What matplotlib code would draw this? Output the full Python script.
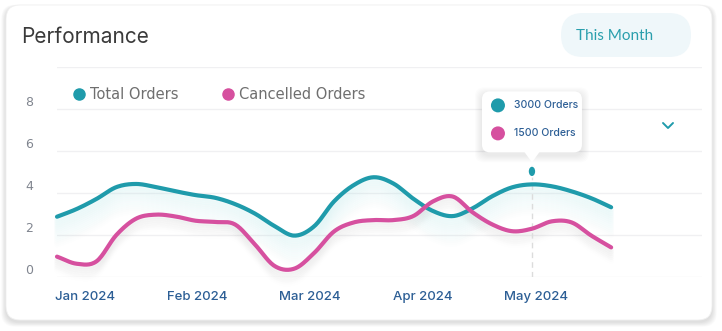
import numpy as np
import matplotlib
matplotlib.use("Agg")
import matplotlib.pyplot as plt
from matplotlib import patches, transforms
from matplotlib.lines import Line2D

W, H = 722, 331

# values (one point every ~20 px)
total_orders = [2.87, 3.24, 3.72, 4.28, 4.43, 4.28, 4.08, 3.90, 3.77, 3.47,
                3.02, 2.42, 1.97, 2.42, 3.60, 4.38, 4.75, 4.45, 3.73, 3.14,
                2.90, 3.27, 3.85, 4.27, 4.41, 4.32, 4.08, 3.75, 3.32]
cancelled_orders = [0.97, 0.63, 0.75, 2.00, 2.78, 2.97, 2.88, 2.68, 2.62, 2.50,
                    1.55, 0.52, 0.40, 1.15, 2.17, 2.60, 2.71, 2.71, 2.90, 3.60,
                    3.83, 3.08, 2.50, 2.18, 2.30, 2.65, 2.60, 1.97, 1.41]
month_labels = ['Jan 2024', 'Feb 2024', 'Mar 2024', 'Apr 2024', 'May 2024']
month_pos = [1.4, 7.1, 12.8, 18.5, 24.2]
y_ticks = [0, 2, 4, 6, 8, 10]
y_labels = ['0', '2', '4', '6', '8', '']
tooltip_idx = 24
tooltip_texts = ['3000 Orders', '1500 Orders']

TEAL = '#1f9bab'
PINK = '#d6509f'
LABEL_BLUE = '#2c5e95'
GRID = '#f0f0f2'


def smooth(y, n=16):
    # catmull-rom curve through the points, only for drawing
    y = np.asarray(y, float)
    p = np.concatenate([[2 * y[0] - y[1]], y, [2 * y[-1] - y[-2]]])
    t = np.linspace(0, 1, n, endpoint=False)
    xs, ys = [], []
    for i in range(len(y) - 1):
        p0, p1, p2, p3 = p[i:i + 4]
        yy = 0.5 * (2 * p1 + (-p0 + p2) * t + (2 * p0 - 5 * p1 + 4 * p2 - p3) * t ** 2
                    + (-p0 + 3 * p1 - 3 * p2 + p3) * t ** 3)
        xs.append(i + t)
        ys.append(yy)
    xs.append([len(y) - 1])
    ys.append([y[-1]])
    return np.concatenate(xs), np.concatenate(ys)


fig = plt.figure(figsize=(W / 100, H / 100), dpi=100)
fig.patch.set_facecolor('white')

# background card, in pixel coordinates
bg = fig.add_axes([0, 0, 1, 1], zorder=0)
bg.set_xlim(0, W)
bg.set_ylim(H, 0)
bg.axis('off')
for k in range(1, 9):
    bg.add_patch(patches.FancyBboxPatch((6 - k * 0.6, 5 - k * 0.3 + 2), 706 + k * 1.2, 315 + k * 0.9,
                                        boxstyle='round,pad=0,rounding_size=14',
                                        fc='#000000', ec='none', alpha=0.014))
bg.add_patch(patches.FancyBboxPatch((6, 5), 706, 315, boxstyle='round,pad=0,rounding_size=14',
                                    fc='white', ec='#f0f0f0', lw=0.6))
bg.text(21, 37, 'Performance', fontsize=15, color='#3a3a3a', va='center', family='Inter')
bg.add_patch(patches.FancyBboxPatch((561, 13), 130, 44, boxstyle='round,pad=0,rounding_size=22',
                                    fc='#eff7fa', ec='none'))
bg.text(615, 36, 'This Month', fontsize=11, color='#2a9fad', va='center', ha='center', family='Lato')

# chart
x0, x1, y0, y1 = 57, 702, 277, 67
ax = fig.add_axes([x0 / W, 1 - y0 / H, (x1 - x0) / W, (y0 - y1) / H], zorder=1)
ax.patch.set_alpha(0)
ax.set_xlim(0, (x1 - x0) / 19.79)
ax.set_ylim(0, 10)
for s in ax.spines.values():
    s.set_visible(False)
ax.set_yticks(y_ticks, y_labels)
ax.grid(axis='y', color=GRID, lw=1)
ax.set_axisbelow(True)
ax.tick_params(axis='y', length=0, pad=17, labelsize=9, labelcolor='#80858f')
for lab in ax.get_yticklabels():
    lab.set_transform(lab.get_transform() + transforms.ScaledTranslation(0, 0.08, fig.dpi_scale_trans))
ax.set_xticks(month_pos, month_labels)
ax.tick_params(axis='x', length=0, pad=10, labelsize=9.5, labelcolor=LABEL_BLUE)
for lab in ax.get_xticklabels():
    lab.set_family('Inter')
    lab.set_fontweight('medium')

tx, ty = smooth(total_orders)
cx, cy = smooth(cancelled_orders)

# soft glow under the teal line, grey shadow under the pink one
for k in range(2, 30, 2):
    off = transforms.ScaledTranslation(0, -k / 100, fig.dpi_scale_trans)
    ax.plot(tx, ty, color='#a8e6e8', lw=4, alpha=0.085 * (1 - k / 32),
            transform=ax.transData + off, clip_on=False, solid_capstyle='round')
for k in range(2, 16, 2):
    off = transforms.ScaledTranslation(0, -k / 100, fig.dpi_scale_trans)
    ax.plot(cx, cy, color='#808080', lw=4, alpha=0.04 * (1 - k / 18),
            transform=ax.transData + off, clip_on=False, solid_capstyle='round')

ax.vlines(tooltip_idx, 0, total_orders[tooltip_idx] + 0.9, colors='#dcdcdc', lw=1,
          linestyles=(0, (4, 3)))
ax.plot(tx, ty, color=TEAL, lw=3, solid_capstyle='round', clip_on=False, zorder=3)
ax.plot(cx, cy, color=PINK, lw=3, solid_capstyle='round', clip_on=False, zorder=3)

handles = [Line2D([], [], ls='none', marker='o', ms=8, mfc=c, mec=c) for c in (TEAL, PINK)]
ax.legend(handles, ['Total Orders', 'Cancelled Orders'], loc='center left',
          bbox_to_anchor=(60 / W, 1 - 95 / H), bbox_transform=fig.transFigure, ncol=2,
          frameon=False, fontsize=10.5, labelcolor='#6f6f6f', handlelength=0.8,
          handletextpad=0.35, columnspacing=3.0)

# tooltip overlay
ov = fig.add_axes([0, 0, 1, 1], zorder=2)
ov.set_xlim(0, W)
ov.set_ylim(H, 0)
ov.axis('off')
mx, my = ax.transData.transform((tooltip_idx, total_orders[tooltip_idx]))
my = H - my - 13
ov.add_patch(patches.Ellipse((mx, my), 8, 11, fc=TEAL, ec='white', lw=1.2))
bx, by, bw, bh = mx - 50, my - 80, 100, 61
for k in range(1, 8):
    ov.add_patch(patches.FancyBboxPatch((bx - k, by - k + 3), bw + 2 * k, bh + 2 * k,
                                        boxstyle='round,pad=0,rounding_size=9',
                                        fc='#000000', ec='none', alpha=0.01))
ov.add_patch(patches.FancyBboxPatch((bx, by), bw, bh, boxstyle='round,pad=0,rounding_size=8',
                                    fc='white', ec='none'))
ov.add_patch(patches.Polygon([(mx - 8, by + bh - 1), (mx + 8, by + bh - 1), (mx, my - 9)],
                             closed=True, fc='white', ec='none'))
for i, (txt, col) in enumerate(zip(tooltip_texts, (TEAL, PINK))):
    yy = by + 14 + i * 28
    ov.add_patch(patches.Circle((bx + 16, yy), 7, fc=col, ec='none'))
    ov.text(bx + 32, yy, txt, fontsize=7.5, color=LABEL_BLUE, va='center', family='Inter',
            fontweight='medium')

ov.plot([663, 668, 673], [123, 128, 123], color=TEAL, lw=1.4, solid_capstyle='round')

fig.savefig('out.png', dpi=100)
